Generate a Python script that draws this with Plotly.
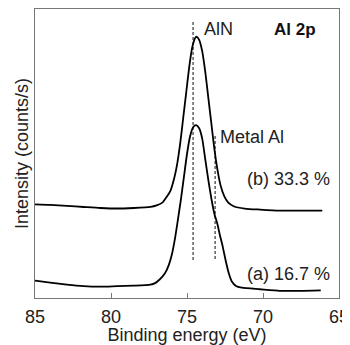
import plotly.graph_objects as go

# Binding energy (eV) and intensity (arb. units)
energy_b = [85.0, 84.0, 82.9, 81.8, 80.7, 79.6, 78.5, 77.4, 77.0, 76.6, 76.4, 76.1, 75.85, 75.65,
            75.45, 75.25, 75.05, 74.85, 74.65, 74.45, 74.35, 74.2, 74.0, 73.8, 73.6, 73.4, 73.2,
            73.0, 72.8, 72.55, 72.3, 71.9, 71.2, 70.2, 68.9, 67.6, 66.1]
intensity_b = [91, 90.5, 89.5, 88.5, 87.5, 87, 87.5, 88.5, 90, 93, 97, 104, 116, 130,
               150, 175, 200, 225, 244, 253, 254, 251, 240, 220, 195, 170, 145,
               125, 110, 99, 93, 89, 87, 86, 85, 85, 85]

energy_a = [85.0, 84.0, 82.9, 81.8, 80.7, 79.6, 78.5, 77.4, 77.1, 76.8, 76.45, 76.2, 76.0, 75.8,
            75.6, 75.4, 75.2, 75.0, 74.8, 74.6, 74.4, 74.2, 74.0, 73.8, 73.6, 73.4, 73.2, 73.0,
            72.85, 72.65, 72.45, 72.25, 72.05, 71.8, 71.4, 70.2, 68.9, 67.6, 66.2]
intensity_a = [17, 15, 13, 11.5, 11, 11.5, 12, 13, 14.5, 18, 24, 32, 42, 57,
               76, 96, 118, 140, 157, 166, 168, 165, 155, 135, 115, 97, 82, 72,
               62, 50, 36, 24, 16, 12, 10, 8.5, 7, 7, 7.5]

ref_energy = [74.6, 73.15]          # AlN, Metal Al reference lines
ref_top = [270, 158]
ref_bottom = [37, 38]
x_ticks = [85, 80, 75, 70, 65]

FONT = "Liberation Sans, Arial, sans-serif"

fig = go.Figure()
for e, t, b in zip(ref_energy, ref_top, ref_bottom):
    fig.add_trace(go.Scatter(x=[e, e], y=[b, t], mode="lines",
                             line=dict(color="#444", width=1.3, dash="3px,2px"),
                             showlegend=False, hoverinfo="skip"))
fig.add_trace(go.Scatter(x=energy_b, y=intensity_b, mode="lines",
                         line=dict(color="black", width=1.8, shape="spline", smoothing=0.6),
                         showlegend=False))
fig.add_trace(go.Scatter(x=energy_a, y=intensity_a, mode="lines",
                         line=dict(color="black", width=1.8, shape="spline", smoothing=0.6),
                         showlegend=False))

ann_font = dict(family=FONT, size=18, color="#222")
fig.add_annotation(x=74.0, y=262, text="AlN", showarrow=False, xanchor="left", yanchor="middle", font=ann_font)
fig.add_annotation(x=66.35, y=261, text="<b>Al 2p</b>", showarrow=False, xanchor="right", yanchor="middle",
                   font=dict(family=FONT, size=17, color="#111"))
fig.add_annotation(x=72.95, y=157, text="Metal Al", showarrow=False, xanchor="left", yanchor="middle", font=ann_font)
fig.add_annotation(x=65.45, y=116, text="(b) 33.3 %", showarrow=False, xanchor="right", yanchor="middle", font=ann_font)
fig.add_annotation(x=65.45, y=23, text="(a) 16.7 %", showarrow=False, xanchor="right", yanchor="middle", font=ann_font)

fig.update_layout(
    width=342, height=337,
    margin=dict(l=27, r=11, t=1, b=47),
    paper_bgcolor="white", plot_bgcolor="white",
    font=dict(family=FONT, size=18, color="#222"),
    xaxis=dict(range=[85, 65], tickvals=x_ticks, ticks="inside", ticklen=5, tickcolor="#777",
               showline=True, linecolor="#777", linewidth=1, mirror=True, showgrid=False,
               zeroline=False, tickfont=dict(family=FONT, size=18, color="#222"),
               ticklabelstandoff=2,
               title=dict(text="Binding energy (eV)", standoff=10,
                          font=dict(family=FONT, size=18, color="#222")),
               automargin=False),
    yaxis=dict(range=[0, 281], showticklabels=False, ticks="", showline=True, linecolor="#777",
               linewidth=1, mirror=True, showgrid=False, zeroline=False,
               title=dict(text="Intensity (counts/s)", standoff=0,
                          font=dict(family=FONT, size=18, color="#222")),
               automargin=False),
)

fig.write_html("out.html")
